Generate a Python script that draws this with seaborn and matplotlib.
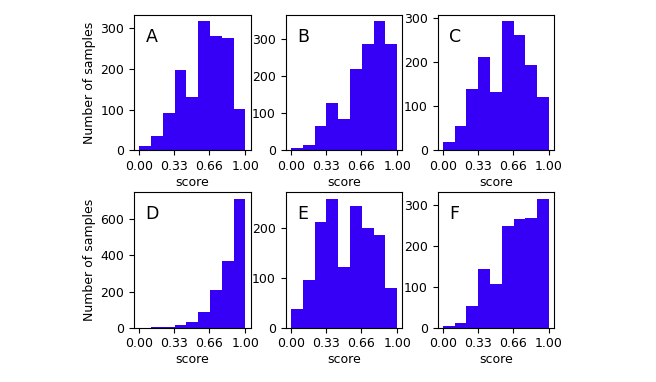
import numpy as np
import pandas as pd
import matplotlib
matplotlib.use("Agg")
import matplotlib.pyplot as plt
import seaborn as sns

# Histogram counts per bin (9 equal bins between 0 and 1)
n_bins = 9
score_range = (0.0, 1.0)
panel_labels = ["A", "B", "C", "D", "E", "F"]
counts_A = [10, 35, 92, 196, 131, 316, 280, 276, 102]
counts_B = [5, 14, 65, 128, 84, 219, 288, 349, 288]
counts_C = [20, 55, 139, 213, 133, 293, 261, 194, 121]
counts_D = [1, 5, 5, 13, 33, 89, 207, 369, 712]
counts_E = [38, 95, 212, 258, 122, 244, 200, 185, 79]
counts_F = [4, 11, 54, 143, 107, 249, 266, 268, 316]
all_counts = [counts_A, counts_B, counts_C, counts_D, counts_E, counts_F]
xtick_vals = [0.0, 0.33, 0.66, 1.0]
xtick_labels = ["0.00", "0.33", "0.66", "1.00"]

bar_color = "#3500f5"

plt.rcParams["font.size"] = 9

fig, axes = plt.subplots(2, 3, figsize=(6.56, 3.82), dpi=100)
fig.subplots_adjust(left=0.204, right=0.845, top=0.961, bottom=0.142,
                    wspace=0.30, hspace=0.31)

edges = np.linspace(score_range[0], score_range[1], n_bins + 1)
centers = (edges[:-1] + edges[1:]) / 2
for i, (ax, lab, cnt) in enumerate(zip(axes.flat, panel_labels, all_counts)):
    df = pd.DataFrame({"score": centers, "n": cnt})
    sns.histplot(data=df, x="score", weights="n", bins=n_bins,
                 binrange=score_range, ax=ax,
                 color=bar_color, alpha=1, linewidth=0, edgecolor=bar_color)
    ax.set_xticks(xtick_vals)
    ax.set_xticklabels(xtick_labels)
    ax.set_xlabel("score", labelpad=2)
    if i % 3 == 0:
        ax.set_ylabel("Number of samples", labelpad=3)
    else:
        ax.set_ylabel("")
    ax.text(0.1, 0.84, lab, transform=ax.transAxes, fontsize=12.5,
            va="center", ha="left")

fig.savefig("out.png", dpi=100)
